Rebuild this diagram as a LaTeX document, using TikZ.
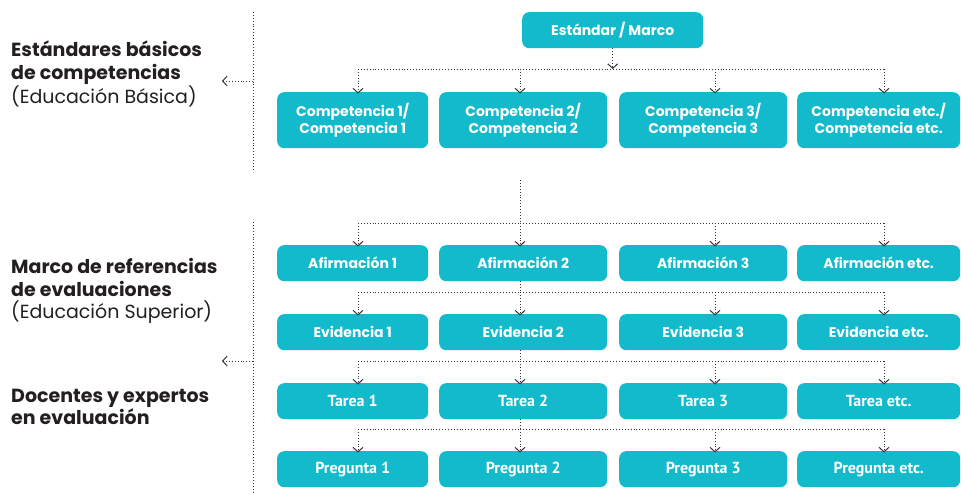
\documentclass[tikz,border=0pt]{standalone}
\usepackage{fontspec}
\setmainfont{Poppins}
\newfontfamily\condfont{PT Sans}
\usetikzlibrary{arrows.meta}
\definecolor{boxcyan}{HTML}{13BACB}
\definecolor{dotgray}{HTML}{333333}
\definecolor{txtdark}{HTML}{231F20}
\begin{document}
\begin{tikzpicture}[x=1pt,y=-1pt,
  card/.style={fill=boxcyan, rounded corners=7pt, text=white, font=\bfseries\fontsize{14}{16.5}\selectfont, align=center, inner sep=0pt, anchor=north west},
  ccard/.style={card, font=\condfont\bfseries\fontsize{16}{18}\selectfont},
  link/.style={draw=dotgray, dotted, line width=0.9pt},
  tip/.style={-{Straight Barb[length=4.5pt,width=10pt,line width=1pt]}},
  side/.style={anchor=west, align=left, text=txtdark, font=\fontsize{19}{22.5}\selectfont, inner xsep=0pt},
]
\useasboundingbox (0,0) rectangle (961,495);
% top
\node[card, minimum width=181pt, minimum height=36pt] (std) at (522,12) {Estándar / Marco};
\node[card, minimum width=151pt, minimum height=56pt] (c1) at (277,92) {Competencia 1/\\Competencia 1};
\node[card, minimum width=168pt, minimum height=56pt] (c2) at (439,92) {Competencia 2/\\Competencia 2};
\node[card, minimum width=168pt, minimum height=56pt] (c3) at (619,92) {Competencia 3/\\Competencia 3};
\node[card, minimum width=163pt, minimum height=56pt] (c4) at (797,92) {Competencia etc./\\Competencia etc.};
% rows
\foreach \r/\y/\txt/\sty in {a/245/Afirmación/card, e/314/Evidencia/card, t/383/Tarea/ccard, p/451/Pregunta/ccard}{
  \node[\sty, minimum width=151pt, minimum height=36pt] (\r1) at (277,\y) {\txt\ 1};
  \node[\sty, minimum width=168pt, minimum height=36pt] (\r2) at (439,\y) {\txt\ 2};
  \node[\sty, minimum width=168pt, minimum height=36pt] (\r3) at (619,\y) {\txt\ 3};
  \node[\sty, minimum width=163pt, minimum height=36pt] (\r4) at (797,\y) {\txt\ etc.};
}
% drop x positions
\coordinate (x1) at (358,0);
\coordinate (x2) at (520,0);
\coordinate (x3) at (715,0);
\coordinate (x4) at (884,0);
% branch levels
\coordinate (b0) at (0,69);
\coordinate (b1) at (0,223);
\coordinate (b2) at (0,292);
\coordinate (b3) at (0,361);
\coordinate (b4) at (0,429);
\coordinate (s2) at (520,180);
% top connectors
\draw[link,tip] (std.south) -- (std.south |- b0);
\draw[link] (x1 |- b0) -- (x4 |- b0);
\foreach \i in {1,2,3,4}{\draw[link,tip] (x\i |- b0) -- ([yshift=-1.5pt]x\i |- c\i.north);}
% section 2
\draw[link] (s2) -- (s2 |- b1);
\draw[link] (x1 |- b1) -- (x4 |- b1);
\foreach \i in {1,2,3,4}{\draw[link,tip] (x\i |- b1) -- ([yshift=-1.5pt]x\i |- a\i.north);}
\draw[link] (x2 |- a2.south) -- (x2 |- b2);
\draw[link] (x1 |- b2) -- (x4 |- b2);
\foreach \i in {1,2,3,4}{\draw[link,tip] (x\i |- b2) -- ([yshift=-1.5pt]x\i |- e\i.north);}
\draw[link] (x2 |- e2.south) -- (x2 |- b3);
\draw[link] (x1 |- b3) -- (x4 |- b3);
\foreach \i in {1,2,3,4}{\draw[link,tip] (x\i |- b3) -- ([yshift=-1.5pt]x\i |- t\i.north);}
\draw[link] (x2 |- t2.south) -- (x2 |- b4);
\draw[link] (x1 |- b4) -- (x4 |- b4);
\foreach \i in {1,2,3,4}{\draw[link,tip] (x\i |- b4) -- ([yshift=-1.5pt]x\i |- p\i.north);}
% left side
\coordinate (v1t) at (253,12);
\coordinate (v1b) at (253,170);
\coordinate (v1a) at (253,81);
\coordinate (v1e) at (222,81);
\coordinate (v2t) at (253,222);
\coordinate (v2b) at (253,495);
\coordinate (v2a) at (253,361);
\coordinate (v2e) at (222,361);
\draw[link] (v1t) -- (v1b);
\draw[link] (v2t) -- (v2b);
\draw[link,tip] (v1a) -- (v1e);
\draw[link,tip] (v2a) -- (v2e);
\node[side] (l1) at (11,74) {\textbf{Estándares básicos}\\\textbf{de competencias}\\(Educación Básica)};
\node[side] (l2) at (11,291) {\textbf{Marco de referencias}\\\textbf{de evaluaciones}\\(Educación Superior)};
\node[side] (l3) at (11,407) {\textbf{Docentes y expertos}\\\textbf{en evaluación}};
\end{tikzpicture}
\end{document}
